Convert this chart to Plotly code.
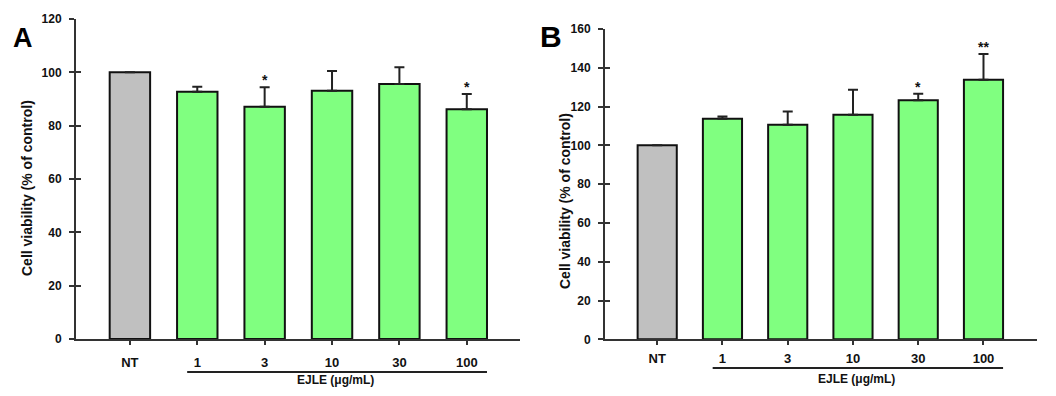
import plotly.graph_objects as go

# ---------------- data ----------------
categories = ["NT", "1", "3", "10", "30", "100"]
a_means = [100, 92.7, 87.1, 93.1, 95.6, 86.2]
a_errors = [0, 1.9, 7.3, 7.4, 6.3, 5.7]
a_stars = ["", "", "*", "", "", "*"]
b_means = [100, 113.7, 110.6, 115.8, 123.2, 133.8]
b_errors = [0, 1.2, 6.9, 12.9, 3.4, 13.3]
b_stars = ["", "", "", "", "*", "**"]
a_yticks = [0, 20, 40, 60, 80, 100, 120]
b_yticks = [0, 20, 40, 60, 80, 100, 120, 140, 160]
ylabel = "Cell viability (% of control)"
xgroup_label = "EJLE (μg/mL)"

# ---------------- style ----------------
OFF = 8                      # default page body margin
W, H = 1056 - 2 * OFF, 396 - 2 * OFF
FONT = "Liberation Sans, Arial, sans-serif"
AXC = "#333333"
GREEN = "#80FF80"
GRAY = "#C0C0C0"
bar_colors = [GRAY] + [GREEN] * 5

def px(x):
    return (x - OFF) / W

def py(y):
    return 1 - (y - OFF) / H

fig = go.Figure()

panels = [
    dict(means=a_means, err=a_errors, stars=a_stars, ticks=a_yticks, ymax=120,
         xd=[px(76), px(520)], yd=[py(339), py(19)], xr=[-0.8, 5.79],
         xa="x", ya="y", xa2="x3", ya2="y3", standoff=6,
         line_y=py(372), lab_y=py(379.5), title_x=px(27), title_y=py(188),
         letter="A", letter_x=px(23), letter_y=py(38), letter_size=27),
    dict(means=b_means, err=b_errors, stars=b_stars, ticks=b_yticks, ymax=160,
         xd=[px(605), px(1037)], yd=[py(339.3), py(29)], xr=[-0.8, 5.82],
         xa="x2", ya="y2", xa2="x4", ya2="y4", standoff=2,
         line_y=py(368), lab_y=py(378.5), title_x=px(565), title_y=py(201),
         letter="B", letter_x=px(551), letter_y=py(36), letter_size=30),
]

annotations = []
shapes = []
layout_axes = {}

for i, p in enumerate(panels):
    n = i + 1
    fig.add_trace(go.Bar(
        x=categories, y=p["means"], xaxis=p["xa"], yaxis=p["ya"],
        marker=dict(color=bar_colors, line=dict(color="#111111", width=2)),
        width=0.6,
        error_y=dict(type="data", symmetric=False, array=p["err"],
                     arrayminus=[0] * len(p["err"]), color="#222222",
                     thickness=2, width=5),
        showlegend=False, hoverinfo="skip",
    ))
    # invisible trace for the inner-tick overlay axes
    fig.add_trace(go.Scatter(x=categories, y=p["means"], xaxis=p["xa2"],
                             yaxis=p["ya2"], mode="markers",
                             marker=dict(opacity=0), showlegend=False,
                             hoverinfo="skip"))
    xk = "xaxis" if n == 1 else "xaxis2"
    yk = "yaxis" if n == 1 else "yaxis2"
    xk2 = "xaxis3" if n == 1 else "xaxis4"
    yk2 = "yaxis3" if n == 1 else "yaxis4"
    layout_axes[xk] = dict(
        domain=p["xd"], anchor=p["ya"], range=p["xr"], type="category",
        showline=True, linecolor=AXC, linewidth=2, showgrid=False,
        ticks="outside", ticklen=4, tickwidth=2, tickcolor=AXC,
        ticklabelstandoff=p["standoff"], automargin=False,
        tickfont=dict(family=FONT, size=13, color="#111111", weight="bold"),
        zeroline=False,
    )
    layout_axes[yk] = dict(
        domain=p["yd"], anchor=p["xa"], range=[0, p["ymax"]],
        tickvals=p["ticks"], showline=True, linecolor=AXC, linewidth=2,
        showgrid=False, zeroline=False, ticks="outside", ticklen=5,
        tickwidth=2, tickcolor=AXC, ticklabelstandoff=5, automargin=False,
        tickfont=dict(family=FONT, size=12, color="#111111", weight="bold"),
    )
    layout_axes[xk2] = dict(
        domain=p["xd"], anchor=p["ya2"], range=p["xr"], type="category",
        overlaying=p["xa"], visible=False, automargin=False,
    )
    layout_axes[yk2] = dict(
        domain=p["yd"], anchor=p["xa2"], range=[0, p["ymax"]],
        overlaying=p["ya"], side="left", tickvals=p["ticks"],
        ticks="inside", ticklen=5, tickwidth=2, tickcolor=AXC,
        showticklabels=False, showline=False, showgrid=False, zeroline=False,
        automargin=False,
    )
    # significance stars (x given as category index)
    for k, (m, e, s) in enumerate(zip(p["means"], p["err"], p["stars"])):
        if s:
            annotations.append(dict(
                x=k, y=m + e, xref=p["xa"], yref=p["ya"], text="<b>%s</b>" % s,
                showarrow=False, xanchor="center", yanchor="bottom", yshift=-3,
                font=dict(family=FONT, size=14, color="#111111"),
            ))
    # group underline + label
    shapes.append(dict(type="line", xref=p["xa"], yref="paper",
                       x0=0.85, x1=5.3, y0=p["line_y"], y1=p["line_y"],
                       line=dict(color="#222222", width=2)))
    annotations.append(dict(
        x=3.05, y=p["lab_y"], xref=p["xa"], yref="paper",
        xanchor="center", yanchor="middle",
        text="<b>%s</b>" % xgroup_label, showarrow=False,
        font=dict(family=FONT, size=12, color="#111111"),
    ))
    # y title
    annotations.append(dict(
        x=p["title_x"], y=p["title_y"], xref="paper", yref="paper",
        xanchor="center", yanchor="middle",
        text="<b>%s</b>" % ylabel, showarrow=False, textangle=-90,
        font=dict(family=FONT, size=14, color="#111111"),
    ))
    # panel letter
    annotations.append(dict(
        x=p["letter_x"], y=p["letter_y"], xref="paper", yref="paper",
        xanchor="center", yanchor="middle",
        text="<b>%s</b>" % p["letter"], showarrow=False,
        font=dict(family=FONT, size=p["letter_size"], color="#000000"),
    ))

fig.update_layout(
    template="none",
    width=W, height=H, margin=dict(l=0, r=0, t=0, b=0, pad=0),
    paper_bgcolor="white", plot_bgcolor="white",
    annotations=annotations, shapes=shapes, bargap=0.4,
    **layout_axes,
)

fig.write_html("out.html")
